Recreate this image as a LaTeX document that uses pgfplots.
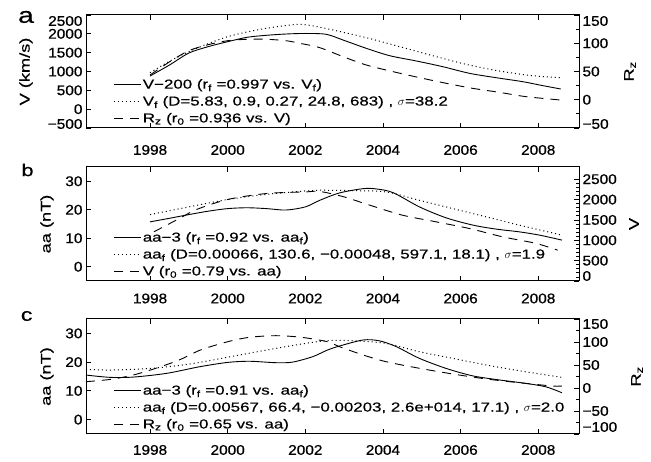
\documentclass[border=0pt]{standalone}
\usepackage{fontspec}
\setmainfont{Liberation Sans}[FakeStretch=1.1, FakeBold=0.7]
\newfontfamily\legfont{Liberation Sans}[FakeStretch=1.3, FakeBold=0.5]
\usepackage{pgfplots}
\pgfplotsset{compat=1.18}

\newcommand{\mynum}{\pgfmathtruncatemacro\tv{round(\tick)}\ifnum\tv<0 −\pgfmathtruncatemacro\tv{-\tv}\fi\tv}
\newcommand{\ylab}[3]{\ifnum\ticknum=0 \raisebox{#2}[\height][\depth]{\mynum}\else\ifnum\ticknum=#1 \raisebox{-#3}[\height][\depth]{\mynum}\else\mynum\fi\fi}

\pgfplotsset{
  base/.style={
    scale only axis, width=493pt,
    xmin=1996.35, xmax=2009.05,
    xtick={1998,2000,...,2008}, minor x tick num=1,
    tick align=inside, major tick length=5pt, minor tick length=3pt,
    axis line style={line width=1pt},
    every tick/.style={black, line width=0.8pt},
    tick label style={font=\fontsize{14}{16}\selectfont},
    label style={font=\legfont\fontsize{14}{16}\selectfont},
    xticklabel={\pgfmathtruncatemacro\tv{round(\tick)}\tv},
    clip=false,
  },
  leg/.style={
    legend style={draw=none, fill=none, at={(axis description cs:0.049,0.003)},
      anchor=south west, font=\legfont\fontsize{13}{15}\selectfont, row sep=3pt,
      nodes={inner sep=1.5pt}},
    legend cell align=left,
    legend image code/.code={\draw[##1] (0pt,0pt) -- (27pt,0pt);},
  },
  solidline/.style={black, line width=0.9pt, smooth},
  dotline/.style={black, line width=1pt, dash pattern=on 1pt off 3pt, smooth},
  dashline/.style={black, line width=0.9pt, dash pattern=on 9pt off 7pt, smooth},
}

\begin{document}
\begin{tikzpicture}
\useasboundingbox (0,0) rectangle (651pt,462pt);

% ---------------- panel a ----------------
\begin{axis}[base, leg, at={(86pt,334pt)}, anchor=south west, height=113pt,
  xticklabel style={yshift=-13.5pt},
  ymin=-500, ymax=2500, ytick={-500,0,...,2500}, ytick pos=left,
  yticklabel={\ylab{6}{4pt}{6pt}},
  ylabel={V (km/s)}, ylabel style={at={(axis description cs:-0.1217,0.5)}, anchor=center}]
\addplot[solidline] coordinates {
(1998.0,880) (1998.5,1172) (1999.0,1490) (1999.5,1660) (2000.0,1791) (2000.5,1908)
(2001.0,1961) (2001.5,1995) (2002.0,2010) (2002.54,1987) (2002.97,1836) (2003.57,1615)
(2004.17,1420) (2004.86,1279) (2005.54,1128) (2006.23,951) (2006.91,836) (2007.6,730)
(2008.03,642) (2008.58,535)};
\addlegendentry{V−200 (r\textsubscript{f} =0.997 vs. V\textsubscript{f})}
\addplot[dotline] coordinates {
(1998.0,968) (1998.5,1270) (1999.0,1526) (1999.5,1740) (2000.0,1924) (2000.5,2050)
(2001.0,2147) (2001.5,2220) (2001.86,2252) (2002.2,2210) (2002.71,2102) (2003.57,1898)
(2004.43,1659) (2005.28,1420) (2006.14,1190) (2007.0,1013) (2007.85,889) (2008.58,836)};
\addlegendentry{V\textsubscript{f} (D=5.83, 0.9, 0.27, 24.8, 683) , $\sigma$=38.2}
\addlegendimage{dashline}
\addlegendentry{R\textsubscript{z} (r\textsubscript{0} =0.936 vs. V)}
\end{axis}
\begin{axis}[base, at={(86pt,334pt)}, anchor=south west, height=113pt,
  axis x line=none, axis y line*=right,
  ymin=-50, ymax=150, ytick={-50,0,...,150}, minor y tick num=1,
  yticklabel={\ylab{4}{4pt}{6pt}},
  ylabel={R\textsubscript{z}}, ylabel style={at={(axis description cs:1.1034,0.5)}, anchor=center}]
\addplot[dashline] coordinates {
(1998.0,43.8) (1998.5,67) (1999.0,86.9) (1999.5,97.5) (2000.0,104.5) (2000.5,107)
(2001.0,107) (2001.5,104.5) (2001.86,99.9) (2002.37,92.2) (2002.97,76.3) (2003.57,61.5)
(2004.26,49.7) (2004.94,39.1) (2005.63,29.1) (2006.31,20.2) (2007.0,13.1) (2007.68,5.5)
(2008.58,-0.5)};
\end{axis}

% ---------------- panel b ----------------
\begin{axis}[base, leg, at={(86pt,181pt)}, anchor=south west, height=114pt,
  xticklabel style={yshift=-9pt},
  ymin=-5, ymax=35, ytick={0,10,20,30}, ytick pos=left,
  yticklabel={\mynum},
  ylabel={aa (nT)}, ylabel style={at={(axis description cs:-0.0791,0.5)}, anchor=center}]
\addplot[solidline] coordinates {
(1998.0,15.75) (1998.5,17.0) (1999.0,18.3) (1999.5,19.5) (2000.0,20.4) (2000.5,20.7)
(2001.0,20.4) (2001.5,19.9) (2002.0,21.0) (2002.37,23.3) (2002.88,25.9) (2003.49,27.4)
(2003.83,27.3) (2004.26,26.0) (2004.94,21.0) (2005.63,17.15) (2006.32,14.6) (2006.92,13.2)
(2007.51,12.25) (2008.03,11.1) (2008.61,9.35)};
\addlegendentry{aa−3 (r\textsubscript{f} =0.92 vs. aa\textsubscript{f})}
\addplot[dotline] coordinates {
(1998.0,18.3) (1999.0,21.0) (2000.0,23.6) (2001.0,25.4) (2002.0,26.6) (2002.37,26.85)
(2003.2,26.7) (2004.08,26.25) (2004.94,23.3) (2005.8,20.4) (2006.66,17.5) (2007.51,14.6)
(2008.61,11.1)};
\addlegendentry{aa\textsubscript{f} (D=0.00066, 130.6, −0.00048, 597.1, 18.1) , $\sigma$=1.9}
\addlegendimage{dashline}
\addlegendentry{V (r\textsubscript{0} =0.79 vs. aa)}
\end{axis}
\begin{axis}[base, at={(86pt,181pt)}, anchor=south west, height=114pt,
  axis x line=none, axis y line*=right,
  ymin=0, ymax=2800, ytick={0,500,...,2500}, minor y tick num=4,
  yticklabel={\ylab{5}{5pt}{0pt}},
  ylabel={V}, ylabel style={at={(axis description cs:1.1116,0.5)}, anchor=center}]
\addplot[dashline] coordinates {
(1998.1,1208) (1998.75,1533) (1999.2,1757) (2000.0,2002) (2001.0,2149) (2002.0,2188)
(2002.37,2200) (2003.0,2065) (2003.66,1862) (2004.5,1617) (2005.37,1453) (2006.23,1288)
(2007.08,1085) (2007.94,924) (2008.5,756)};
\end{axis}

% ---------------- panel c ----------------
\begin{axis}[base, leg, at={(86pt,28pt)}, anchor=south west, height=115pt,
  xticklabel style={yshift=-7.5pt},
  ymin=-5, ymax=35, ytick={0,10,20,30}, ytick pos=left,
  yticklabel={\mynum},
  ylabel={aa (nT)}, ylabel style={at={(axis description cs:-0.0791,0.5)}, anchor=center}]
\addplot[solidline] coordinates {
(1996.35,15.5) (1996.97,14.7) (1997.57,14.8) (1998.43,16.1) (1999.28,18.4) (2000.0,19.9)
(2000.56,20.3) (2001.24,19.8) (2001.67,20.0) (2002.19,21.9) (2002.57,24.2) (2002.88,25.6)
(2003.49,27.7) (2003.91,27.4) (2004.34,25.4) (2004.94,21.3) (2005.63,17.8) (2006.32,15.2)
(2007.0,13.8) (2007.68,12.6) (2008.2,11.4) (2008.61,9.35)};
\addlegendentry{aa−3 (r\textsubscript{f} =0.91 vs. aa\textsubscript{f})}
\addplot[dotline] coordinates {
(1996.35,17.5) (1997.0,17.25) (1998.0,17.8) (1999.0,19.3) (2000.0,21.7) (2001.0,24.2)
(2002.0,26.5) (2002.6,27.5) (2003.2,27.45) (2004.08,26.5) (2004.94,23.6) (2005.8,21.3)
(2006.66,19.0) (2007.51,17.0) (2008.61,14.7)};
\addlegendentry{aa\textsubscript{f} (D=0.00567, 66.4, −0.00203, 2.6e+014, 17.1) , $\sigma$=2.0}
\addlegendimage{dashline}
\addlegendentry{R\textsubscript{z} (r\textsubscript{0} =0.65 vs. aa)}
\end{axis}
\begin{axis}[base, at={(86pt,28pt)}, anchor=south west, height=115pt,
  axis x line=none, axis y line*=right,
  ymin=-100, ymax=150, ytick={-100,-50,...,150}, minor y tick num=1,
  yticklabel={\ylab{5}{7pt}{5pt}},
  ylabel={R\textsubscript{z}}, ylabel style={at={(axis description cs:1.1176,0.5)}, anchor=center}]
\addplot[dashline] coordinates {
(1996.35,13.7) (1997.0,18.9) (1997.57,28.3) (1998.15,42.8) (1998.75,60.9) (1999.3,82.6)
(2000.0,100.6) (2000.56,110.2) (2001.24,113.7) (2001.9,110.2) (2002.57,100.6) (2002.88,89.8)
(2003.49,71.7) (2004.08,57.2) (2004.94,42.8) (2005.8,30.4) (2006.66,19.6) (2007.51,11.5)
(2008.37,4.3) (2008.61,4.3)};
\end{axis}

\node[font=\legfont\fontsize{22}{22}\selectfont] at (26pt,445pt) {a};
\node[font=\legfont\fontsize{17}{17}\selectfont] at (27.5pt,292pt) {b};
\node[font=\legfont\fontsize{18}{18}\selectfont] at (26.7pt,146pt) {c};
\end{tikzpicture}
\end{document}
